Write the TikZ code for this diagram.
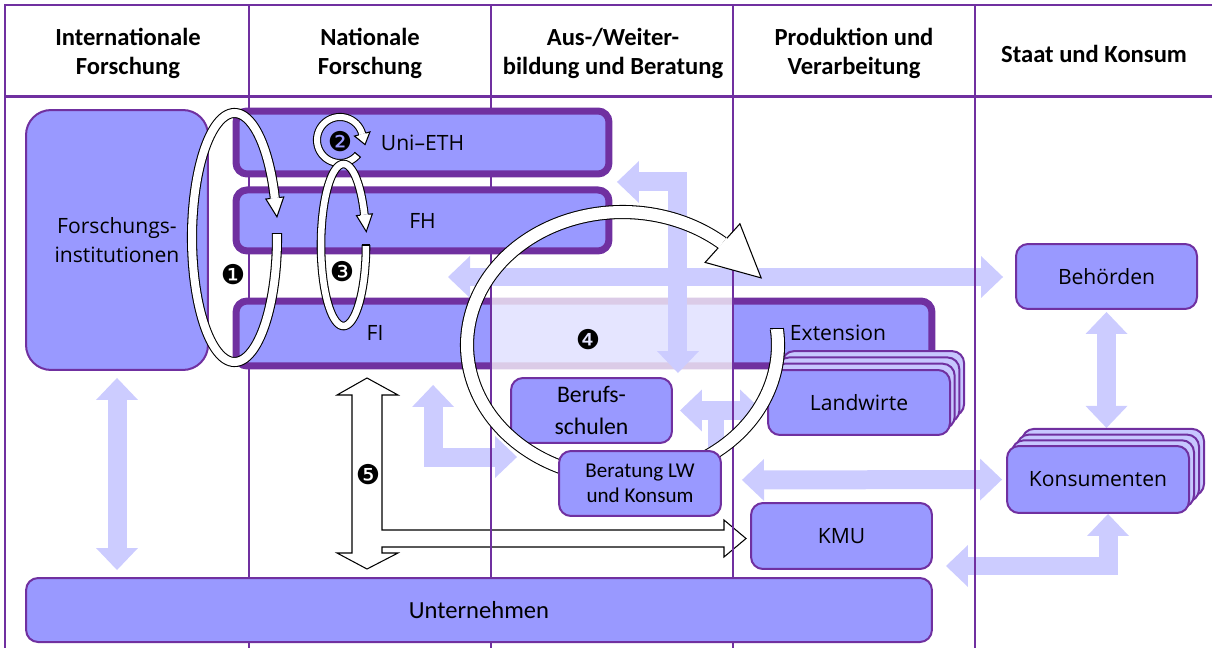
\documentclass[tikz,border=0pt]{standalone}
\usepackage{fontspec}
\setmainfont{Carlito}
\newfontfamily\segoe{Open Sans}
\newfontfamily\dingfont{DejaVu Sans}
\usetikzlibrary{arrows.meta, calc, positioning, backgrounds}

\definecolor{boxfill}{HTML}{9999FF}
\definecolor{boxline}{HTML}{7030A0}
\definecolor{arrowfill}{HTML}{CCCCFF}

\newcommand{\openhead}[5]{%
	\begin{scope}[shift={#1}, rotate=#2]
		\filldraw[fill=white, draw=black, line width=0.6pt, line join=miter] (0,#3) -- (0,#4) -- (#5,0) -- (0,-#4) -- (0,-#3);
	\end{scope}}

\begin{document}
\begin{tikzpicture}[x=0.02cm, y=-0.02cm, >={Triangle[length=0.44cm, width=0.84cm, line width=0pt]},
	gridline/.style={draw=boxline, line width=0.03cm},
	thickbox/.style={draw=boxline, fill=boxfill, line width=0.14cm, rounded corners=0.22cm, inner sep=0pt},
	thinbox/.style={draw=boxline, fill=boxfill, line width=0.04cm, rounded corners=0.24cm, inner sep=0pt, minimum width=3.62cm, minimum height=1.3cm},
	backbox/.style={thinbox, fill=boxfill!55!white},
	header/.style={font=\fontsize{14}{16.5}\selectfont\bfseries, align=center},
	segtext/.style={font=\segoe\fontsize{12}{16.5}\selectfont, align=center},
	caltext/.style={font=\fontsize{13.5}{18}\selectfont, align=center},
	lightarrow/.style={<->, draw=arrowfill, line width=0.38cm},
	loopline/.style={draw=black, line width=0.6pt, double=white},
	num/.style={font=\dingfont\fontsize{15.5}{15.5}\selectfont, inner sep=0pt}]
	\useasboundingbox (0,0) rectangle (1212,648);

	\draw[gridline] (5,648) -- (5,5) -- (1212,5);
	\draw[gridline, line width=0.06cm] (5,97) -- (1212,97);
	\foreach \x in {249,491,733,975}
		\draw[gridline] (\x,5) -- (\x,648);

	\node[header] (h1) at (128,53) {Internationale\\Forschung};
	\node[header] (h2) at (370,53) {Nationale\\Forschung};
	\node[header] (h3) at (613,53) {Aus-/Weiter-\\bildung und Beratung};
	\node[header] (h4) at (854,53) {Produktion und\\Verarbeitung};
	\node[header] (h5) at (1094,54) {Staat und Konsum};

	\node[thinbox, minimum width=3.64cm, minimum height=5.2cm, rounded corners=0.5cm, segtext] (forsch) at (117,240) {Forschungs-\\institutionen};
	\node[thickbox, minimum width=7.46cm, minimum height=1.26cm, segtext] (uni) at (422.5,142.5) {Uni–ETH};
	\node[thickbox, minimum width=7.46cm, minimum height=1.22cm, segtext, below=0.18cm of uni] (fh) {FH};
	\node[thickbox, minimum width=13.92cm, minimum height=1.3cm] (fiband) at (584,333.5) {};
	\node[segtext] (fi) at (375,333) {FI};
	\node[segtext] (ext) at (838,333) {Extension};
	\node[thinbox, minimum width=18.12cm, minimum height=1.28cm, font=\fontsize{14}{17}\selectfont] (untern) at (479,610) {Unternehmen};
	\node[thinbox, segtext] (behoerden) at (1106.5,276.5) {Behörden};
	\node[thinbox, minimum height=1.32cm, segtext] (kmu) at (841.5,536) {KMU};
	\foreach \k in {3,2,1}
		\node[backbox, minimum width=3.64cm] (landw\k) at ({859+4.7*\k},{402.5-6.3*\k}) {};
	\node[thinbox, minimum width=3.64cm, segtext] (landw) at (859,402.5) {Landwirte};
	\foreach \k in {3,2,1}
		\node[backbox, minimum width=3.64cm, minimum height=1.34cm] (konsum\k) at ({1098+5*\k},{479.5-5.7*\k}) {};
	\node[thinbox, minimum width=3.64cm, minimum height=1.34cm, segtext] (konsum) at (1098,479.5) {Konsumenten};

	\fill[white, opacity=0.75] (491,295) rectangle (733,372);
	\draw[gridline] (491,295) -- (491,372) (733,295) -- (733,372);

	\node[thinbox, minimum width=3.22cm, caltext] (berufs) at (591.5,410.5) {Berufs-\\schulen};
	\draw[lightarrow, shorten <=0.09cm, shorten >=0.08cm] ($(uni.south east)!0.5!(fh.north east)$) -| ($(berufs.north east)+(5,0)$);

	\draw[loopline, double distance=0.12cm] plot[domain=40:345, samples=80, variable=\t] ({340+23*cos(\t)},{140+23*sin(\t)});
	\draw[line width=0.6pt] (354.5,152.2) -- (360.7,157.4);
	\openhead{(362.2,134)}{-75}{3.5}{8}{11}
	\draw[loopline, double distance=0.13cm] plot[domain=0:338, samples=120, variable=\t] ({343.5+22.5*cos(\t)},{245+81*sin(\t)});
	\draw[line width=0.6pt] (361.7,245) -- (370.3,245);
	\openhead{(364.4,214.7)}{-83.6}{4}{8}{17}
	\draw[loopline, double distance=0.16cm] plot[domain=-2:341.5, samples=120, variable=\t] ({234.5+42.5*cos(\t)},{237.5+124.5*sin(\t)});
	\draw[line width=0.6pt] (271.9,233.2) -- (282,233.2);
	\openhead{(274.8,198)}{-83.5}{4.5}{9}{19}
	\draw[loopline, double distance=0.24cm] plot[domain=-7:310, samples=150, variable=\t] ({622.5+155.5*cos(\t)},{345+133*sin(\t)});
	\draw[line width=0.6pt] (769.8,328.8) -- (783.8,328.8);
	\openhead{(722.5,243.1)}{-42}{6.5}{26}{52}

	\node[thinbox, minimum width=3.24cm, font=\fontsize{12}{14.2}\selectfont, align=center] (beratung) at (640,483.5) {Beratung LW\\und Konsum};

	\node[num] (n1) at (233,275) {❶};
	\node[num] (n2) at (340,142) {❷};
	\node[num] (n3) at (342,272) {❸};
	\node[num] (n4) at (588,340) {❹};
	\node[num] (n5) at (368,475) {❺};

	\begin{pgfonlayer}{background}
		\draw[lightarrow, shorten <=0.14cm, shorten >=0.14cm] (forsch.south) -- (forsch.south |- untern.north);
		\coordinate (natl) at (448,277);
		\draw[lightarrow, shorten >=0.24cm] (natl) -- (natl -| behoerden.west);
		\draw[lightarrow, shorten <=0.14cm, shorten >=0.1cm] (berufs.east) -- (berufs.east -| landw.west);
		\draw[draw=arrowfill, line width=0.32cm] ($(beratung.north east)+(-6,0)$) -- ++(0,-40);
		\draw[lightarrow] ($(fiband.south west)+(200.5,15.5)$) |- ($(beratung.west)+(-41,-26.5)$);
		\draw[lightarrow, shorten <=0.4cm, shorten >=0.08cm] ($(beratung.east)+(0,-3.5)$) -- ($(konsum.west)+(0,0)$);
		\draw[lightarrow, shorten <=0.04cm] (behoerden.south) -- (behoerden.south |- konsum3.north);
		\draw[lightarrow] ($(kmu.south east)+(13,-4)$) -| ($(konsum.south)+(10,0)$);
		\filldraw[fill=white, draw=black, line width=0.6pt, line join=miter]
			(367,378) -- (398,395) -- (382,395) -- (382,530) -- (724,530) -- (724,520) -- (746,538.5) -- (724,557) -- (724,547) -- (382,547) -- (382,553) -- (398,553) -- (367,569) -- (337,553) -- (352,553) -- (352,395) -- (337,395) -- cycle;
	\end{pgfonlayer}
\end{tikzpicture}
\end{document}
